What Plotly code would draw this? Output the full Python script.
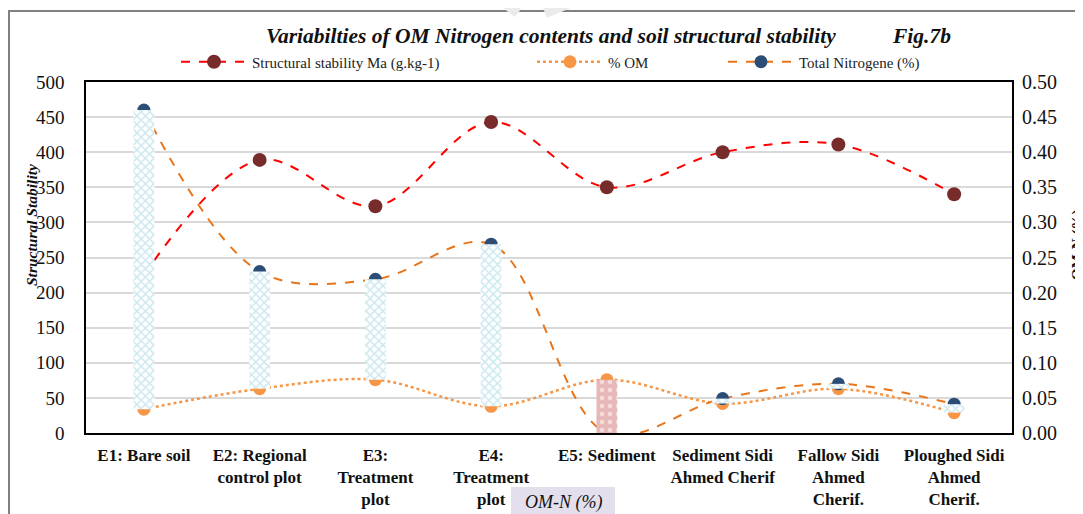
import plotly.graph_objects as go

# Data
categories = [
    "E1: Bare soil",
    "E2: Regional<br>control plot",
    "E3:<br>Treatment<br>plot",
    "E4:<br>Treatment<br>plot",
    "E5: Sediment",
    "Sediment Sidi<br>Ahmed Cherif",
    "Fallow Sidi<br>Ahmed<br>Cherif.",
    "Ploughed Sidi<br>Ahmed<br>Cherif.",
]
structural_stability = [225, 389, 323, 443, 350, 400, 411, 340]   # g.kg-1 (left axis)
om_pct = [0.034, 0.063, 0.076, 0.038, 0.076, 0.042, 0.063, 0.029]  # % OM (right axis)
total_nitrogen = [0.460, 0.230, 0.219, 0.269, 0.000, 0.049, 0.070, 0.041]  # % N (right axis)

serif = "Liberation Serif"

# Up/down bars between % OM and Total N
up = [(c, a, b) for c, a, b in zip(categories, om_pct, total_nitrogen) if b >= a]
down = [(c, a, b) for c, a, b in zip(categories, om_pct, total_nitrogen) if b < a]

# page is drawn with an 8px body margin, so the figure is a bit smaller than the window
PAGE_OFF = 8
W, H = 1083 - PAGE_OFF, 514 - PAGE_OFF
L, R, T, B = 86, 1012, 82, 433   # plot area in window pixels


def px_x(px):
    return (px - L) / (R - L)


def px_y(py):
    return (B - py) / (B - T)


fig = go.Figure()

fig.add_trace(go.Scatter(
    x=categories, y=structural_stability, name="Structural stability Ma (g.kg-1)",
    mode="lines+markers", line=dict(color="#FF0000", width=2, dash="dash", shape="spline"),
    marker=dict(color="#772B2A", size=14), yaxis="y", legend="legend",
))
fig.add_trace(go.Scatter(
    x=categories, y=om_pct, name="% OM",
    mode="lines+markers", line=dict(color="#F79646", width=2.5, dash="dot", shape="spline"),
    marker=dict(color="#F79646", size=13), yaxis="y2", legend="legend2",
))
fig.add_trace(go.Scatter(
    x=categories, y=total_nitrogen, name="Total Nitrogene (%)",
    mode="lines+markers", line=dict(color="#E8751A", width=2, dash="dash", shape="spline"),
    marker=dict(color="#2C4D75", size=13), yaxis="y2", legend="legend3",
))
fig.add_trace(go.Bar(
    x=[u[0] for u in up], y=[u[2] - u[1] for u in up], base=[u[1] for u in up],
    width=0.18, yaxis="y3",
    marker=dict(color="#FFFFFF", line=dict(width=0),
                pattern=dict(shape="x", fgcolor="#9FD2E2", bgcolor="#FFFFFF",
                             size=6, solidity=0.45)),
    showlegend=False, hoverinfo="skip",
))
fig.add_trace(go.Bar(
    x=[d[0] for d in down], y=[d[1] - d[2] for d in down], base=[d[2] for d in down],
    width=0.18, yaxis="y3",
    marker=dict(color="#E6B9B8", line=dict(width=0),
                pattern=dict(shape=".", fgcolor="#FFFFFF", bgcolor="#E6B9B8",
                             size=8, solidity=0.25)),
    showlegend=False, hoverinfo="skip",
))

legend_common = dict(
    orientation="h", xref="paper", yref="paper", yanchor="middle",
    font=dict(family=serif, size=15, color="#222"), itemwidth=66,
    bgcolor="rgba(0,0,0,0)", itemclick=False,
)

fig.update_layout(
    width=W, height=H,
    margin=dict(l=L - PAGE_OFF, r=W + PAGE_OFF - R, t=T - PAGE_OFF, b=H + PAGE_OFF - B,
                autoexpand=False),
    paper_bgcolor="white", plot_bgcolor="white",
    font=dict(family=serif, color="#111"),
    barmode="overlay",
    xaxis=dict(
        type="category", showgrid=False, showline=True, linecolor="black", linewidth=1.5,
        mirror=True, ticks="", tickfont=dict(family=serif, size=17, color="#111", weight="bold"),
        ticklabelstandoff=6, automargin=False,
    ),
    yaxis=dict(
        range=[0, 500], dtick=50, showgrid=True, gridcolor="#D9D9D9", gridwidth=1.5,
        showline=True, linecolor="black", linewidth=1.5, mirror=True, ticks="",
        tickfont=dict(family=serif, size=19, color="#111"), ticklabelstandoff=16,
        zeroline=False, automargin=False,
    ),
    yaxis2=dict(
        range=[0, 0.5], dtick=0.05, tickformat=".2f", overlaying="y", side="right",
        showgrid=False, zeroline=False, ticks="", tickfont=dict(family=serif, size=20, color="#111"),
        ticklabelstandoff=9, automargin=False,
    ),
    yaxis3=dict(range=[0, 0.5], overlaying="y", visible=False),
    legend=dict(legend_common, x=px_x(176), y=px_y(62)),
    legend2=dict(legend_common, x=px_x(532), y=px_y(62)),
    legend3=dict(legend_common, x=px_x(723), y=px_y(62)),
    showlegend=True,
)

# Titles and labels
ann = dict(xref="paper", yref="paper", showarrow=False, xanchor="center", yanchor="middle")
fig.add_annotation(
    ann, text="<b><i>Variabilties of OM Nitrogen contents and soil structural stability</i></b>",
    x=px_x(551), y=px_y(36), font=dict(family=serif, size=21.5, color="#111"),
)
fig.add_annotation(
    ann, text="<b><i>Fig.7b</i></b>", x=px_x(921), y=px_y(36),
    font=dict(family=serif, size=21.5, color="#111"),
)
fig.add_annotation(
    ann, text="<b><i>Structural Stability</i></b>", x=px_x(31), y=px_y(225), textangle=-90,
    font=dict(family=serif, size=15.5, color="#111"),
)
# right axis title, partly cut by the window edge as in the original
fig.add_annotation(
    ann, text="<b>OM-N (%)</b>", x=px_x(1077), y=px_y(245), textangle=-90,
    font=dict(family=serif, size=15, color="#111"),
)

# Outer chart border, faint watermark strokes and the boxed label at the bottom
fig.add_shape(type="rect", xref="paper", yref="paper",
              x0=px_x(9), x1=px_x(1100), y0=px_y(530), y1=px_y(11),
              line=dict(color="#808080", width=2), layer="below")
fig.add_shape(type="line", xref="paper", yref="paper",
              x0=px_x(498), x1=px_x(518), y0=px_y(-2), y1=px_y(13),
              line=dict(color="#EBEBEB", width=10), layer="below")
fig.add_shape(type="line", xref="paper", yref="paper",
              x0=px_x(545), x1=px_x(582), y0=px_y(13), y1=px_y(-2),
              line=dict(color="#EBEBEB", width=10), layer="below")
fig.add_shape(type="rect", xref="paper", yref="paper",
              x0=px_x(511), x1=px_x(615), y0=px_y(520), y1=px_y(487),
              fillcolor="#E4DFEC", line=dict(width=0), layer="above")
fig.add_annotation(
    ann, text="<i>OM-N (%)</i>", x=px_x(563), y=px_y(502),
    font=dict(family=serif, size=18, color="#111"),
)

fig.write_html("out.html")
